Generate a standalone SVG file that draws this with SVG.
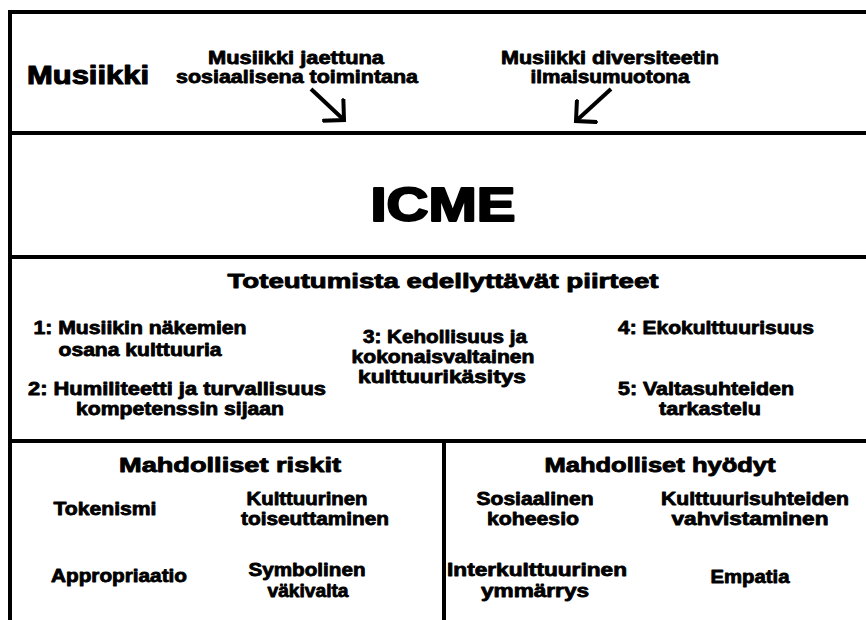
<svg xmlns="http://www.w3.org/2000/svg" width="866" height="620" viewBox="0 0 866 620">
<defs>
<style>
.frame{stroke:#000;stroke-width:4;fill:none;stroke-linecap:square}
text{font-family:"Liberation Sans",Arial,sans-serif;font-weight:bold;fill:#000;stroke:#000;stroke-width:0.8;stroke-linejoin:round;text-anchor:middle}
.t{font-size:18px}
.h{font-size:21px;stroke-width:0.9}
.arrow{stroke:#000;stroke-width:4;fill:none}
</style>
<marker id="vhead" markerUnits="userSpaceOnUse" viewBox="-16 -16 20 32" markerWidth="20" markerHeight="32" refX="0" refY="0" orient="auto">
<path d="M-14,-14 L0,0 L-14,14" fill="none" stroke="#000" stroke-width="4" stroke-linecap="square"/>
</marker>
</defs>
<rect width="866" height="620" fill="#fff"/>
<g id="frame">
<line class="frame" x1="10" y1="12" x2="866" y2="12"/>
<line class="frame" x1="10" y1="12" x2="10" y2="620"/>
<line class="frame" x1="10" y1="133" x2="866" y2="133"/>
<line class="frame" x1="10" y1="257" x2="866" y2="257"/>
<line class="frame" x1="10" y1="441" x2="866" y2="441"/>
<line class="frame" x1="444" y1="441" x2="444" y2="620"/>
</g>
<g id="musiikki"><text x="88" y="84" style="font-size:26px;stroke-width:1.1" textLength="122" lengthAdjust="spacingAndGlyphs">Musiikki</text></g>
<g id="jaettuna">
<text class="t" x="296" y="64" textLength="176" lengthAdjust="spacingAndGlyphs">Musiikki jaettuna</text>
<text class="t" x="297" y="83" textLength="242" lengthAdjust="spacingAndGlyphs">sosiaalisena toimintana</text>
</g>
<g id="diversiteetti">
<text class="t" x="610" y="64" textLength="218" lengthAdjust="spacingAndGlyphs">Musiikki diversiteetin</text>
<text class="t" x="610" y="83" textLength="159" lengthAdjust="spacingAndGlyphs">ilmaisumuotona</text>
</g>
<g id="icme"><text x="443" y="221" style="font-size:48px;stroke-width:2.2" textLength="145" lengthAdjust="spacingAndGlyphs">ICME</text></g>
<g id="piirteet"><text class="h" x="443" y="288" textLength="431" lengthAdjust="spacingAndGlyphs">Toteutumista edellyttävät piirteet</text></g>
<g id="p1">
<text class="t" x="140" y="334" textLength="213" lengthAdjust="spacingAndGlyphs">1: Musiikin näkemien</text>
<text class="t" x="140" y="356" textLength="163" lengthAdjust="spacingAndGlyphs">osana kulttuuria</text>
</g>
<g id="p2">
<text class="t" x="177" y="395" textLength="298" lengthAdjust="spacingAndGlyphs">2: Humiliteetti ja turvallisuus</text>
<text class="t" x="180" y="415" textLength="208" lengthAdjust="spacingAndGlyphs">kompetenssin sijaan</text>
</g>
<g id="p3">
<text class="t" x="445" y="343" textLength="164" lengthAdjust="spacingAndGlyphs">3: Kehollisuus ja</text>
<text class="t" x="443" y="363" textLength="183" lengthAdjust="spacingAndGlyphs">kokonaisvaltainen</text>
<text class="t" x="442" y="383" textLength="168" lengthAdjust="spacingAndGlyphs">kulttuurikäsitys</text>
</g>
<g id="p4"><text class="t" x="716" y="334" textLength="196" lengthAdjust="spacingAndGlyphs">4: Ekokulttuurisuus</text></g>
<g id="p5">
<text class="t" x="706" y="395" textLength="176" lengthAdjust="spacingAndGlyphs">5: Valtasuhteiden</text>
<text class="t" x="710" y="415" textLength="102" lengthAdjust="spacingAndGlyphs">tarkastelu</text>
</g>
<g id="riskit"><text class="h" x="230" y="472" textLength="222" lengthAdjust="spacingAndGlyphs">Mahdolliset riskit</text></g>
<g id="tokenismi"><text class="t" x="105" y="515" textLength="103" lengthAdjust="spacingAndGlyphs">Tokenismi</text></g>
<g id="toiseuttaminen">
<text class="t" x="307" y="505" textLength="121" lengthAdjust="spacingAndGlyphs">Kulttuurinen</text>
<text class="t" x="315" y="525" textLength="148" lengthAdjust="spacingAndGlyphs">toiseuttaminen</text>
</g>
<g id="appropriaatio"><text class="t" x="119" y="582" textLength="136" lengthAdjust="spacingAndGlyphs">Appropriaatio</text></g>
<g id="symbolinen">
<text class="t" x="307" y="576" textLength="117" lengthAdjust="spacingAndGlyphs">Symbolinen</text>
<text class="t" x="308" y="597" textLength="81" lengthAdjust="spacingAndGlyphs">väkivalta</text>
</g>
<g id="hyodyt"><text class="h" x="660" y="472" textLength="231" lengthAdjust="spacingAndGlyphs">Mahdolliset hyödyt</text></g>
<g id="koheesio">
<text class="t" x="535" y="505" textLength="117" lengthAdjust="spacingAndGlyphs">Sosiaalinen</text>
<text class="t" x="533" y="525" textLength="92" lengthAdjust="spacingAndGlyphs">koheesio</text>
</g>
<g id="vahvistaminen">
<text class="t" x="755" y="505" textLength="188" lengthAdjust="spacingAndGlyphs">Kulttuurisuhteiden</text>
<text class="t" x="750" y="525" textLength="157" lengthAdjust="spacingAndGlyphs">vahvistaminen</text>
</g>
<g id="ymmarrys">
<text class="t" x="537" y="576" textLength="180" lengthAdjust="spacingAndGlyphs">Interkulttuurinen</text>
<text class="t" x="535" y="597" textLength="108" lengthAdjust="spacingAndGlyphs">ymmärrys</text>
</g>
<g id="empatia"><text class="t" x="750" y="583" textLength="79" lengthAdjust="spacingAndGlyphs">Empatia</text></g>
<g id="connectors">
<line class="arrow" x1="311" y1="89" x2="344" y2="120" marker-end="url(#vhead)"/>
<line class="arrow" x1="611" y1="89" x2="576" y2="121" marker-end="url(#vhead)"/>
</g>
</svg>
